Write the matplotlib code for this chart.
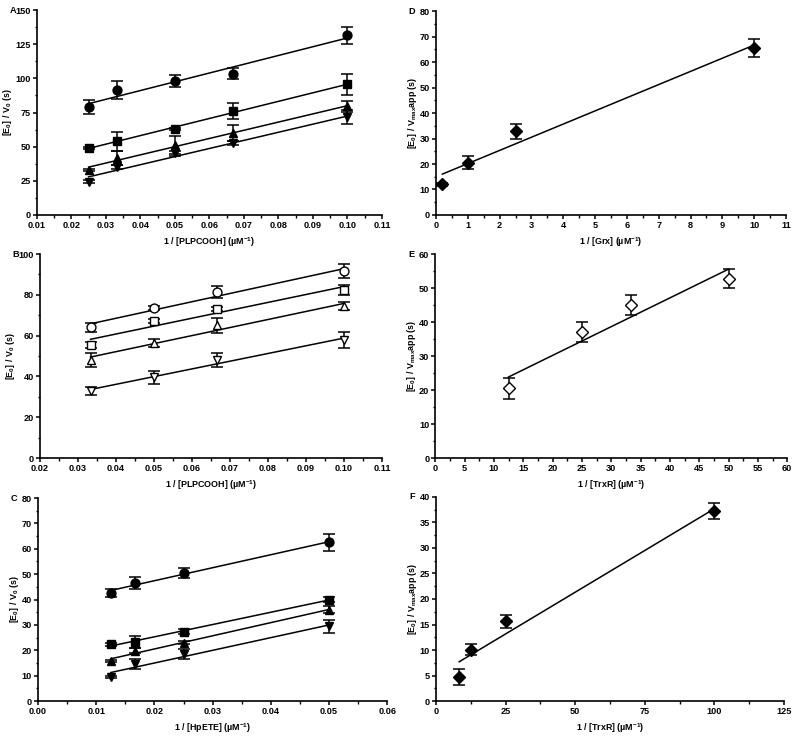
import numpy as np
import matplotlib
matplotlib.use("Agg")
import matplotlib.pyplot as plt
from matplotlib.ticker import MultipleLocator, FormatStrFormatter

plt.rcParams['font.family'] = ['Liberation Sans', 'DejaVu Sans']
plt.rcParams['font.weight'] = 'bold'
plt.rcParams['mathtext.fontset'] = 'custom'
plt.rcParams['mathtext.rm'] = 'Liberation Sans:bold'
plt.rcParams['mathtext.bf'] = 'Liberation Sans:bold'
plt.rcParams['mathtext.it'] = 'Liberation Sans:bold'
plt.rcParams['mathtext.default'] = 'bf'

# ---------------- data ----------------
# Panel A
a_x = [0.025, 0.0333, 0.05, 0.0667, 0.1]
a_circle = [79, 91.5, 98, 103.5, 131.5]
a_circle_err = [4.8, 6.5, 4.5, 4.0, 6.0]
a_square = [49, 54, 63, 76, 95.5]
a_square_err = [1.0, 7.0, 1.0, 6.0, 7.5]
a_up = [33, 41.5, 51, 60, 79.5]
a_up_err = [1.0, 5.0, 6.5, 6.0, 4.0]
a_down = [24.5, 35, 45, 52.5, 71.5]
a_down_err = [1.0, 1.5, 1.5, 1.5, 5.0]

# Panel B
b_x = [0.0333, 0.05, 0.0667, 0.1]
b_circle = [64, 73.5, 81.5, 91.5]
b_circle_err = [2.0, 1.0, 3.0, 3.5]
b_square = [55.5, 67, 73, 82.5]
b_square_err = [1.5, 1.0, 1.0, 2.5]
b_up = [48, 56.5, 65, 74.5]
b_up_err = [3.5, 2.0, 3.5, 2.0]
b_down = [33, 39.5, 48, 58]
b_down_err = [2.0, 3.0, 3.5, 4.0]

# Panel C
c_x = [0.0125, 0.01667, 0.025, 0.05]
c_circle = [42.5, 46.5, 50.5, 62.5]
c_circle_err = [1.5, 2.2, 2.0, 3.5]
c_square = [22.3, 23.3, 27.3, 40]
c_square_err = [0.5, 2.5, 1.0, 1.0]
c_up = [15.8, 19.8, 23, 36]
c_up_err = [0.5, 1.0, 0.5, 1.5]
c_down = [9.5, 14.5, 18.5, 29.5]
c_down_err = [0.5, 2.0, 2.0, 2.5]

# Panel D
d_x = [0.2, 1, 2.5, 10]
d_y = [12, 20.5, 32.8, 65.5]
d_err = [0.5, 2.6, 3.0, 3.5]

# Panel E
e_x = [12.5, 25, 33.3, 50]
e_y = [20.5, 37, 45, 52.7]
e_err = [3.0, 3.0, 3.0, 2.8]

# Panel F
f_x = [8.33, 12.5, 25, 100]
f_y = [4.7, 10.1, 15.6, 37.2]
f_err = [1.5, 1.0, 1.2, 1.6]

# ---------------- figure ----------------
fig = plt.figure(figsize=(8.0, 7.38), dpi=100)

TICK_FS = 6.6
LABEL_FS = 6.4


def make_ax(rect):
    ax = fig.add_axes(rect)
    for s in ('top', 'right'):
        ax.spines[s].set_visible(False)
    for s in ('left', 'bottom'):
        ax.spines[s].set_linewidth(1.2)
    ax.tick_params(which='major', direction='out', length=3, width=1.1,
                   labelsize=TICK_FS, pad=1.2)
    ax.tick_params(which='minor', direction='out', length=1.8, width=1.0)
    return ax


def series(ax, x, y, err, marker, ms, filled=True):
    fc = 'black' if filled else 'white'
    ax.errorbar(x, y, yerr=err, fmt='none', ecolor='black', elinewidth=1.1,
                capsize=4, capthick=1.1, zorder=2)
    x = np.asarray(x, float)
    k, b = np.polyfit(x, y, 1)
    xl = np.array([x.min(), x.max()])
    ax.plot(xl, k * xl + b, color='black', lw=1.1, zorder=3)
    ax.plot(x, y, linestyle='none', marker=marker, ms=ms, mfc=fc, mec='black',
            mew=1.0, zorder=4)


def finish(ax, letter, xlim, xmaj, xmin, xfmt, ylim, ymaj, ymin, xlabel, ylabel):
    ax.set_xlim(*xlim)
    ax.set_ylim(*ylim)
    ax.xaxis.set_major_locator(MultipleLocator(xmaj))
    ax.xaxis.set_minor_locator(MultipleLocator(xmin))
    ax.yaxis.set_major_locator(MultipleLocator(ymaj))
    ax.yaxis.set_minor_locator(MultipleLocator(ymin))
    if xfmt:
        ax.xaxis.set_major_formatter(FormatStrFormatter(xfmt))
    for lab in ax.get_xticklabels() + ax.get_yticklabels():
        lab.set_fontweight('bold')
    ax.set_xlabel(xlabel, fontsize=LABEL_FS, fontweight='bold', labelpad=4)
    ax.set_ylabel(ylabel, fontsize=LABEL_FS, fontweight='bold', labelpad=1)
    ax.annotate(letter, xy=(0, 1), xycoords='axes fraction', xytext=(-15, 0),
                textcoords='offset points', ha='right', va='center',
                fontsize=TICK_FS, fontweight='bold')


ylab0 = r'[E$_0$] / V$_0$ (s)'
ylabm = r'[E$_0$] / V$_{max}$app (s)'

# A
axA = make_ax([0.046, 0.7087, 0.4315, 0.2777])
series(axA, a_x, a_circle, a_circle_err, 'o', 6.4)
series(axA, a_x, a_square, a_square_err, 's', 5.8)
series(axA, a_x, a_up, a_up_err, '^', 6.4)
series(axA, a_x, a_down, a_down_err, 'v', 6.4)
finish(axA, 'A', (0.01, 0.11), 0.01, 0.005, '%.2f', (0, 150), 25, 12.5,
       r'1 / [PLPCOOH] (µM$^{-1}$)', ylab0)

# B
axB = make_ax([0.050, 0.3794, 0.4275, 0.2764])
series(axB, b_x, b_circle, b_circle_err, 'o', 6.4, filled=False)
series(axB, b_x, b_square, b_square_err, 's', 5.8, filled=False)
series(axB, b_x, b_up, b_up_err, '^', 6.4, filled=False)
series(axB, b_x, b_down, b_down_err, 'v', 6.4, filled=False)
finish(axB, 'B', (0.02, 0.11), 0.01, 0.005, '%.2f', (0, 100), 20, 10,
       r'1 / [PLPCOOH] (µM$^{-1}$)', ylab0)

# C
axC = make_ax([0.0475, 0.0501, 0.4365, 0.2751])
series(axC, c_x, c_circle, c_circle_err, 'o', 6.4)
series(axC, c_x, c_square, c_square_err, 's', 5.8)
series(axC, c_x, c_up, c_up_err, '^', 6.4)
series(axC, c_x, c_down, c_down_err, 'v', 6.4)
finish(axC, 'C', (0.0, 0.06), 0.01, 0.005, '%.2f', (0, 80), 10, 5,
       r'1 / [HpETE] (µM$^{-1}$)', ylab0)

# D
axD = make_ax([0.545, 0.7087, 0.4375, 0.2763])
series(axD, d_x, d_y, d_err, 'D', 6.6)
finish(axD, 'D', (0, 11), 1, 0.5, None, (0, 80), 10, 5,
       r'1 / [Grx] (µM$^{-1}$)', ylabm)

# E
axE = make_ax([0.544, 0.3794, 0.440, 0.2764])
series(axE, e_x, e_y, e_err, 'D', 6.6, filled=False)
finish(axE, 'E', (0, 60), 5, 2.5, None, (0, 60), 10, 5,
       r'1 / [TrxR] (µM$^{-1}$)', ylabm)

# F
axF = make_ax([0.545, 0.0501, 0.435, 0.2765])
series(axF, f_x, f_y, f_err, 'D', 6.6)
finish(axF, 'F', (0, 125), 25, 12.5, None, (0, 40), 5, 2.5,
       r'1 / [TrxR] (µM$^{-1}$)', ylabm)

fig.savefig('out.png', dpi=100)
